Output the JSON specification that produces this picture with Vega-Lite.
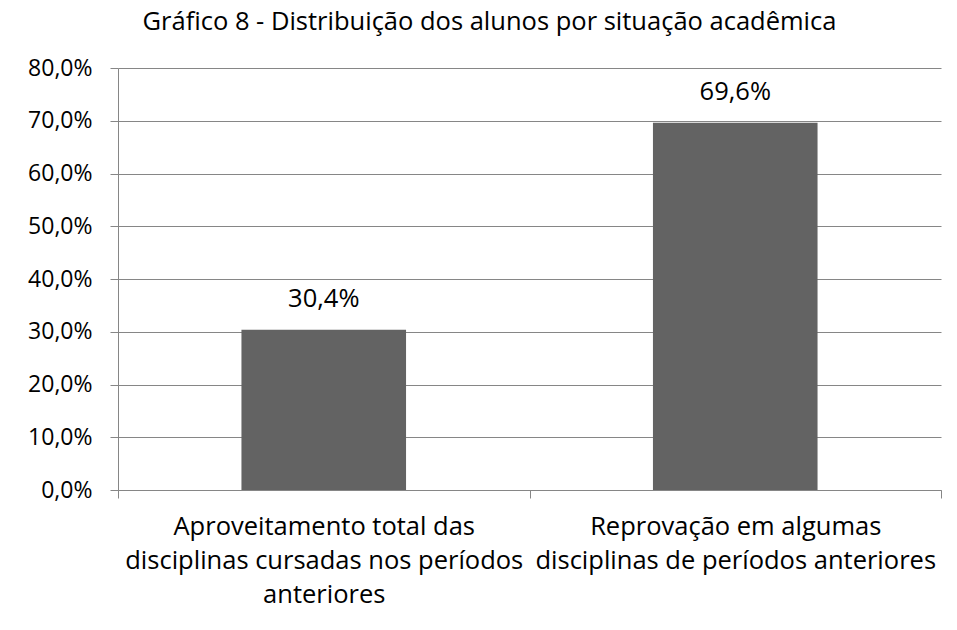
{
  "$schema": "https://vega.github.io/schema/vega-lite/v6.json",
  "autosize": "none",
  "width": 823,
  "height": 422,
  "padding": {"left": 118, "top": 68, "right": 16, "bottom": 140},
  "background": "white",
  "title": {
    "text": "Gráfico 8 - Distribuição dos alunos por situação acadêmica",
    "anchor": "middle",
    "dx": -40,
    "offset": 22,
    "font": "Open Sans",
    "fontSize": 25.5,
    "fontWeight": "normal",
    "color": "#000000"
  },
  "config": {
    "locale": {"number": {"decimal": ",", "thousands": ".", "grouping": [3], "currency": ["R$", ""]}},
    "view": {"stroke": null},
    "font": "Open Sans"
  },
  "data": {
    "values": [
      {"situacao": "Aproveitamento total das\ndisciplinas cursadas nos períodos\nanteriores", "pct": 0.304},
      {"situacao": "Reprovação em algumas\ndisciplinas de períodos anteriores", "pct": 0.696}
    ]
  },
  "encoding": {
    "x": {
      "field": "situacao",
      "type": "nominal",
      "sort": null,
      "scale": {"paddingInner": 0, "paddingOuter": 0},
      "axis": {
        "title": null,
        "labelAngle": 0,
        "labelExpr": "split(datum.label, '\\n')",
        "labelFont": "Open Sans",
        "labelFontSize": 25.5,
        "labelColor": "#000000",
        "labelLineHeight": 34,
        "labelPadding": 16,
        "labelLimit": 0,
        "tickBand": "extent",
        "tickSize": 8,
        "tickColor": "#868686",
        "domainColor": "#868686",
        "grid": false
      }
    },
    "y": {
      "field": "pct",
      "type": "quantitative",
      "scale": {"domain": [0, 0.8], "nice": false},
      "axis": {
        "title": null,
        "format": ".1%",
        "values": [0, 0.1, 0.2, 0.3, 0.4, 0.5, 0.6, 0.7, 0.8],
        "labelFont": "Open Sans",
        "labelFontSize": 23,
        "labelColor": "#000000",
        "labelPadding": 18,
        "tickSize": 8,
        "tickColor": "#868686",
        "domainColor": "#868686",
        "gridColor": "#868686",
        "grid": true
      }
    }
  },
  "layer": [
    {"mark": {"type": "bar", "width": {"band": 0.4}, "color": "#636363"}},
    {
      "mark": {"type": "text", "baseline": "bottom", "dy": -18, "font": "Open Sans", "fontSize": 25.5, "color": "#000000"},
      "encoding": {"text": {"field": "pct", "type": "quantitative", "format": ".1%"}}
    }
  ]
}
